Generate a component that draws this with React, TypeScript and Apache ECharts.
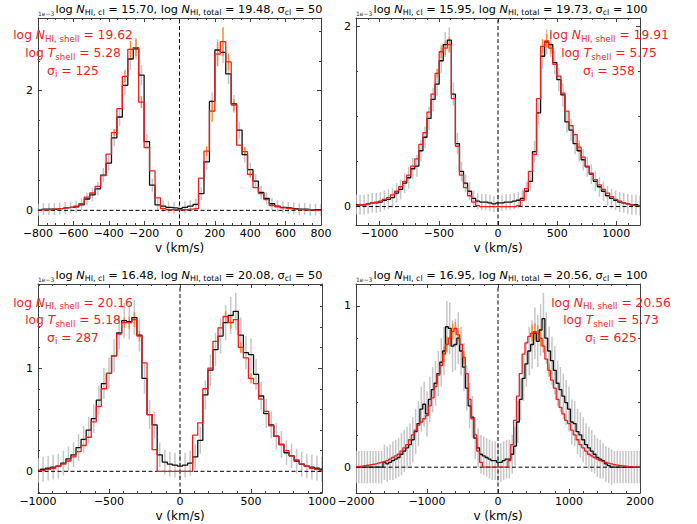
import React, { useEffect, useRef } from "react";
import * as echarts from "echarts";

// ---------------- data (values in units of 1e-3) ----------------
// Panel 1: bins centred from -800 to 800 km/s
const P1_V_FIRST = -800;
const P1_V_LAST = 800;
const P1_OBS = [
  0.01, 0.02, 0.02, 0.02, 0.03, 0.04, 0.05, 0.06, 0.09, 0.19,
  0.26, 0.36, 0.59, 0.79, 1.21, 1.56, 2.09, 2.53, 2.70, 2.26,
  1.15, 0.42, 0.09, 0.07, 0.05, 0.04, 0.03, 0.05, 0.07, 0.10,
  0.28, 0.81, 1.82, 2.68, 2.64, 2.28, 1.78, 1.34, 0.93, 0.68,
  0.49, 0.30, 0.20, 0.11, 0.07, 0.05, 0.04, 0.03, 0.02, 0.02,
  0.01, 0.01, 0.01,
];
const P1_MODEL = [
  0.01, 0.01, 0.01, 0.02, 0.03, 0.04, 0.05, 0.07, 0.11, 0.22,
  0.29, 0.40, 0.58, 0.94, 1.30, 1.70, 2.24, 2.69, 2.72, 1.81,
  1.05, 0.66, 0.21, 0.03, 0.01, 0.01, 0.01, 0.01, 0.02, 0.03,
  0.54, 0.99, 1.66, 2.61, 2.82, 2.48, 1.76, 1.09, 0.98, 0.60,
  0.38, 0.28, 0.18, 0.08, 0.06, 0.04, 0.03, 0.02, 0.01, 0.01,
  0.01, 0.0, 0.0,
];
const P1_OBS_ERR = [
  0.10, 0.10, 0.10, 0.10, 0.10, 0.10, 0.10, 0.10, 0.11, 0.11,
  0.11, 0.11, 0.12, 0.13, 0.14, 0.15, 0.16, 0.18, 0.18, 0.17,
  0.13, 0.11, 0.10, 0.10, 0.10, 0.10, 0.10, 0.10, 0.10, 0.10,
  0.11, 0.13, 0.15, 0.18, 0.18, 0.17, 0.15, 0.14, 0.13, 0.12,
  0.11, 0.11, 0.10, 0.10, 0.10, 0.10, 0.10, 0.10, 0.10, 0.10,
  0.10, 0.10, 0.10,
];
const P1_MODEL_ERR: [number, number][] = [
  [14, 0.06], [16, 0.1], [17, 0.14], [18, 0.14], [19, 0.1],
  [31, 0.08], [32, 0.18], [33, 0.2], [34, 0.24], [35, 0.14], [36, 0.1], [38, 0.07], [39, 0.05],
];

// Panel 2: bins centred from -1200 to 1200 km/s
const P2_V_FIRST = -1200;
const P2_V_LAST = 1200;
const P2_OBS = [
  0.02, 0.02, 0.02, 0.03, 0.04, 0.04, 0.05, 0.07, 0.08, 0.10,
  0.15, 0.19, 0.26, 0.32, 0.42, 0.45, 0.62, 0.77, 0.98, 1.19,
  1.36, 1.62, 1.80, 1.85, 1.25, 0.70, 0.39, 0.26, 0.17, 0.09,
  0.06, 0.05, 0.05, 0.04, 0.03,
  0.04,
  0.04, 0.05, 0.05, 0.06, 0.07, 0.09, 0.17, 0.28, 0.61, 1.04,
  1.67, 1.83, 1.80, 1.60, 1.41, 1.24, 0.94, 0.85, 0.70, 0.62,
  0.52, 0.44, 0.36, 0.28, 0.22, 0.17, 0.12, 0.09, 0.07, 0.05,
  0.04, 0.03, 0.02, 0.02, 0.01,
];
const P2_MODEL = [
  0.01, 0.02, 0.02, 0.03, 0.04, 0.05, 0.06, 0.08, 0.10, 0.13,
  0.17, 0.22, 0.28, 0.35, 0.45, 0.53, 0.69, 0.82, 1.05, 1.25,
  1.48, 1.72, 1.76, 1.80, 1.20, 0.67, 0.35, 0.21, 0.12, 0.05,
  0.01, 0.0, 0.0, 0.0, 0.0,
  0.0,
  0.0, 0.0, 0.0, 0.0, 0.01, 0.07, 0.20, 0.39, 0.58, 1.20,
  1.78, 1.84, 1.76, 1.58, 1.45, 1.26, 1.06, 0.90, 0.80, 0.66,
  0.55, 0.45, 0.37, 0.30, 0.24, 0.19, 0.15, 0.11, 0.08, 0.06,
  0.04, 0.03, 0.02, 0.01, 0.01,
];
const P2_OBS_ERR = [
  0.11, 0.11, 0.11, 0.11, 0.11, 0.11, 0.11, 0.11, 0.11, 0.11,
  0.11, 0.11, 0.11, 0.12, 0.12, 0.12, 0.12, 0.12, 0.13, 0.13,
  0.13, 0.14, 0.14, 0.14, 0.13, 0.12, 0.11, 0.10, 0.10, 0.09,
  0.09, 0.09, 0.09, 0.09, 0.09,
  0.09,
  0.09, 0.09, 0.09, 0.09, 0.09, 0.10, 0.10, 0.11, 0.12, 0.13,
  0.14, 0.14, 0.14, 0.13, 0.13, 0.13, 0.12, 0.12, 0.12, 0.12,
  0.12, 0.11, 0.11, 0.11, 0.11, 0.11, 0.11, 0.11, 0.11, 0.11,
  0.11, 0.11, 0.11, 0.11, 0.11,
];
const P2_MODEL_ERR: [number, number][] = [
  [20, 0.05], [21, 0.07], [22, 0.08], [23, 0.08], [46, 0.08], [47, 0.08], [48, 0.06], [55, 0.05],
];

// Panel 3: bins centred from -1000 to 1000 km/s
const P3_V_FIRST = -1000;
const P3_V_LAST = 1000;
const P3_OBS = [
  0.01, 0.02, 0.03, 0.04, 0.05, 0.08, 0.12, 0.16, 0.23, 0.31,
  0.40, 0.51, 0.69, 0.85, 0.95, 1.12, 1.34, 1.46, 1.45, 1.49,
  1.32, 0.90, 0.55, 0.45, 0.16, 0.09, 0.07, 0.06,
  0.05,
  0.06, 0.08, 0.14, 0.30, 0.74, 0.98, 1.18, 1.31, 1.44, 1.51,
  1.55, 1.32, 1.15, 1.13, 0.94, 0.73, 0.56, 0.45, 0.34, 0.26,
  0.18, 0.15, 0.10, 0.07, 0.05, 0.04, 0.03, 0.02,
];
const P3_MODEL = [
  0.01, 0.01, 0.02, 0.03, 0.05, 0.07, 0.10, 0.14, 0.19, 0.25,
  0.33, 0.48, 0.63, 0.80, 0.95, 1.12, 1.33, 1.44, 1.44, 1.47,
  1.31, 1.05, 0.55, 0.21, 0.0, 0.0, 0.0, 0.0,
  0.0,
  0.0, 0.0, 0.35, 0.47, 0.80, 1.00, 1.26, 1.39, 1.50, 1.44,
  1.47, 1.20, 1.10, 0.90, 0.85, 0.70, 0.58, 0.44, 0.34, 0.26,
  0.20, 0.15, 0.11, 0.07, 0.05, 0.03, 0.02, 0.01,
];
const P3_OBS_ERR = [
  0.12, 0.12, 0.12, 0.12, 0.12, 0.12, 0.12, 0.12, 0.13, 0.13,
  0.13, 0.14, 0.14, 0.15, 0.15, 0.16, 0.16, 0.17, 0.17, 0.17,
  0.16, 0.15, 0.14, 0.13, 0.12, 0.12, 0.12, 0.12,
  0.12,
  0.12, 0.12, 0.12, 0.13, 0.14, 0.15, 0.16, 0.17, 0.17, 0.18,
  0.18, 0.17, 0.16, 0.16, 0.15, 0.14, 0.14, 0.13, 0.13, 0.13,
  0.12, 0.12, 0.12, 0.12, 0.12, 0.12, 0.12, 0.12,
];
const P3_MODEL_ERR: [number, number][] = [
  [17, 0.05], [18, 0.06], [19, 0.07], [20, 0.05], [37, 0.05], [38, 0.06], [40, 0.05], [42, 0.05],
];

// Panel 4: bins centred from -2000 to 2000 km/s
const P4_V_FIRST = -2000;
const P4_V_LAST = 2000;
const P4_OBS = [
  0, 0, 0, 0, 0, 0, 0, 0, 0, 0,
  0.03, 0.02, 0.03, 0.04, 0.05, 0.06, 0.08, 0.10, 0.12, 0.14,
  0.17, 0.22, 0.27, 0.36, 0.39, 0.33, 0.42, 0.48, 0.52, 0.58,
  0.65, 0.72, 0.87, 0.86, 0.75, 0.76, 0.80, 0.72, 0.62, 0.49,
  0.38, 0.31, 0.18, 0.12, 0.08, 0.07, 0.06, 0.05, 0.04, 0.04,
  0.03,
  0.03, 0.04, 0.05, 0.05, 0.08, 0.13, 0.28, 0.42, 0.55, 0.64,
  0.72, 0.76, 0.83, 0.78, 0.85, 0.92, 0.80, 0.72, 0.66, 0.60,
  0.52, 0.48, 0.44, 0.40, 0.36, 0.28, 0.27, 0.22, 0.20, 0.17,
  0.14, 0.12, 0.10, 0.08, 0.06, 0.05, 0.04, 0.02, 0.01, 0,
  0, 0, 0, 0, 0, 0, 0, 0, 0, 0,
];
const P4_MODEL = [
  0.003, 0.005, 0.007, 0.01, 0.012, 0.015, 0.018, 0.02, 0.025, 0.03,
  0.035, 0.04, 0.05, 0.06, 0.07, 0.08, 0.10, 0.12, 0.14, 0.17,
  0.20, 0.23, 0.26, 0.28, 0.30, 0.32, 0.38, 0.43, 0.50, 0.57,
  0.63, 0.70, 0.76, 0.80, 0.84, 0.86, 0.82, 0.76, 0.68, 0.58,
  0.42, 0.30, 0.20, 0.10, 0.03, 0, 0, 0, 0, 0,
  0,
  0, 0, 0, 0.04, 0.14, 0.29, 0.44, 0.58, 0.70, 0.77,
  0.81, 0.83, 0.84, 0.83, 0.80, 0.75, 0.67, 0.60, 0.54, 0.49,
  0.42, 0.37, 0.33, 0.29, 0.27, 0.23, 0.20, 0.17, 0.14, 0.12,
  0.10, 0.08, 0.07, 0.06, 0.05, 0.04, 0.035, 0.03, 0.025, 0.02,
  0.015, 0.012, 0.01, 0.008, 0.006, 0.004, 0.003, 0.002, 0, 0,
];
const P4_OBS_ERR = [
  0.10, 0.10, 0.10, 0.10, 0.10, 0.10, 0.10, 0.10, 0.10, 0.10,
  0.11, 0.11, 0.11, 0.12, 0.12, 0.12, 0.13, 0.13, 0.13, 0.13,
  0.14, 0.14, 0.14, 0.14, 0.14, 0.14, 0.14, 0.14, 0.14, 0.14,
  0.15, 0.15, 0.16, 0.16, 0.16, 0.16, 0.16, 0.15, 0.15, 0.14,
  0.14, 0.13, 0.13, 0.12, 0.12, 0.12, 0.12, 0.12, 0.12, 0.12,
  0.12,
  0.12, 0.12, 0.12, 0.12, 0.12, 0.12, 0.13, 0.13, 0.14, 0.14,
  0.15, 0.15, 0.16, 0.16, 0.16, 0.16, 0.16, 0.15, 0.15, 0.15,
  0.14, 0.14, 0.14, 0.14, 0.14, 0.14, 0.14, 0.14, 0.14, 0.14,
  0.13, 0.13, 0.13, 0.12, 0.12, 0.12, 0.11, 0.11, 0.11, 0.11,
  0.10, 0.10, 0.10, 0.10, 0.10, 0.10, 0.10, 0.10, 0.10, 0.10,
];
const P4_MODEL_ERR: [number, number][] = [
  [31, 0.05], [32, 0.05], [33, 0.05], [34, 0.05], [35, 0.04], [36, 0.04], [38, 0.04],
  [62, 0.05], [63, 0.05], [64, 0.05], [65, 0.05], [66, 0.04], [68, 0.04],
];

// Text values
const TITLE_N_CL = ["15.70", "15.95", "16.48", "16.95"];
const TITLE_N_TOTAL = ["19.48", "19.73", "20.08", "20.56"];
const TITLE_SIGMA_CL = ["50", "100", "50", "100"];
const SHELL_N = ["19.62", "19.91", "20.16", "20.56"];
const SHELL_T = ["5.28", "5.75", "5.18", "5.73"];
const SHELL_SIGMA = ["125", "358", "287", "625"];

// Axis ranges / ticks
const X_RANGES: [number, number][] = [[-800, 800], [-1200, 1200], [-1000, 1000], [-2000, 2000]];
const Y_RANGES: [number, number][] = [[-0.245, 3.215], [-0.205, 2.095], [-0.21, 1.815], [-0.16, 1.135]];
const X_MAJOR = [200, 500, 500, 1000];
const X_MINOR = [50, 100, 100, 200];
const Y_MAJOR = [2, 2, 1, 1];
const Y_MINOR = [0.5, 0.5, 0.2, 0.2];

// ---------------- layout / style ----------------
const GRIDS = [
  { left: 38, top: 18, width: 283, height: 207 },
  { left: 356, top: 18, width: 284, height: 207 },
  { left: 38, top: 284, width: 284, height: 209 },
  { left: 356, top: 284, width: 284, height: 209 },
];
const ANNOT_X = [73, 609, 73, 611];
const ANNOT_Y = [[35, 53, 70.5], [35, 53, 70.5], [302.5, 320, 337.5], [302.5, 320, 337.5]];
const TITLE_TARGET_WIDTH = 268; // width of the first panel title in px
const RED_TARGET_WIDTH = 120; // width of the first annotation line in px
const FRAME = "#404040";
const RED = "#f01e1e";
const ORANGE = "#ff8c28";
const GRAY = "#c6c6c6";
const FONT = "DejaVu Sans";

const PANELS = [
  { vFirst: P1_V_FIRST, vLast: P1_V_LAST, obs: P1_OBS, obsErr: P1_OBS_ERR, model: P1_MODEL, modelErr: P1_MODEL_ERR },
  { vFirst: P2_V_FIRST, vLast: P2_V_LAST, obs: P2_OBS, obsErr: P2_OBS_ERR, model: P2_MODEL, modelErr: P2_MODEL_ERR },
  { vFirst: P3_V_FIRST, vLast: P3_V_LAST, obs: P3_OBS, obsErr: P3_OBS_ERR, model: P3_MODEL, modelErr: P3_MODEL_ERR },
  { vFirst: P4_V_FIRST, vLast: P4_V_LAST, obs: P4_OBS, obsErr: P4_OBS_ERR, model: P4_MODEL, modelErr: P4_MODEL_ERR },
];

function tickList(min: number, max: number, step: number): number[] {
  const out: number[] = [];
  const s = Math.ceil(min / step - 1e-9);
  const e = Math.floor(max / step + 1e-9);
  for (let k = s; k <= e; k++) out.push(+(k * step).toFixed(6));
  return out;
}

const fmt = (v: number) => (v < 0 ? "\u2212" + String(-v) : String(v));

let measureCtx: CanvasRenderingContext2D | null = null;
function textWidth(text: string, size: number, italic: boolean): number {
  if (!measureCtx) measureCtx = document.createElement("canvas").getContext("2d");
  if (!measureCtx) return text.length * size * 0.6;
  measureCtx.font = `${italic ? "italic " : ""}${size}px "${FONT}"`;
  return measureCtx.measureText(text).width;
}

type Tok = [string, string];
const richString = (toks: Tok[]) => toks.map(([s, t]) => `{${s}|${t}}`).join("");
const widthOf = (toks: Tok[], size: number) =>
  toks.reduce((acc, [s, t]) => acc + textWidth(t, s === "s" ? size * 0.7 : size, s === "i"), 0);

const titleTokens = (k: number): Tok[] => [
  ["t", "log "], ["i", "N"], ["s", "HI, cl"], ["t", ` = ${TITLE_N_CL[k]}, log `], ["i", "N"], ["s", "HI, total"],
  ["t", ` = ${TITLE_N_TOTAL[k]}, σ`], ["s", "cl"], ["t", ` = ${TITLE_SIGMA_CL[k]}`],
];
const annotTokens = (k: number): Tok[][] => [
  [["t", "log "], ["i", "N"], ["s", "HI, shell"], ["t", ` = ${SHELL_N[k]}`]],
  [["t", "log "], ["i", "T"], ["s", "shell"], ["t", ` = ${SHELL_T[k]}`]],
  [["t", "σ"], ["s", "i"], ["t", ` = ${SHELL_SIGMA[k]}`]],
];

function axisCfg(k: number, dim: "x" | "y", position: string, major: boolean) {
  const [min, max] = dim === "x" ? X_RANGES[k] : Y_RANGES[k];
  const majStep = dim === "x" ? X_MAJOR[k] : Y_MAJOR[k];
  const minStep = dim === "x" ? X_MINOR[k] : Y_MINOR[k];
  const showLabel = major && (position === "bottom" || position === "left");
  return {
    type: "value",
    gridIndex: k,
    position,
    min,
    max,
    axisLine: { show: major, onZero: false, lineStyle: { color: FRAME, width: 1 } },
    axisTick: {
      show: true,
      inside: true,
      length: major ? 4 : 2,
      customValues: major ? tickList(min, max, majStep) : tickList(min, max, minStep),
      lineStyle: { color: FRAME, width: 1 },
    },
    axisLabel: {
      show: showLabel,
      customValues: tickList(min, max, majStep),
      margin: dim === "x" ? 3 : 5,
      fontSize: 11,
      fontFamily: FONT,
      color: "#000",
      formatter: fmt,
      showMinLabel: true,
      showMaxLabel: true,
      hideOverlap: false,
    },
    splitLine: { show: false },
    minorTick: { show: false },
    minorSplitLine: { show: false },
  };
}

function makeRich(color: string, size: number, lh: number) {
  const sub = size * 0.7;
  return {
    t: { fontSize: size, fontFamily: FONT, fill: color, color, lineHeight: lh, verticalAlign: "middle" },
    i: { fontSize: size, fontFamily: FONT, fontStyle: "italic", fill: color, color, lineHeight: lh, verticalAlign: "middle" },
    s: { fontSize: sub, fontFamily: FONT, fill: color, color, lineHeight: sub, verticalAlign: "bottom" },
  };
}

function buildOption() {
  const grid = GRIDS.map((g) => ({ ...g, containLabel: false, outerBoundsMode: "none" }));
  const xAxis: any[] = [];
  const yAxis: any[] = [];
  const series: any[] = [];
  const graphic: any[] = [];

  // calibrate font sizes so that text widths match the reference
  const titleSize = Math.round(10 * TITLE_TARGET_WIDTH / widthOf(titleTokens(0), 10) * 10) / 10;
  const redSize = Math.round(10 * RED_TARGET_WIDTH / widthOf(annotTokens(0)[0], 10) * 10) / 10;
  const titleRich = makeRich("#000", titleSize, titleSize * 1.3);
  const redRich = makeRich(RED, redSize, redSize * 1.3);

  PANELS.forEach((p, k) => {
    xAxis.push(axisCfg(k, "x", "bottom", true), axisCfg(k, "x", "bottom", false), axisCfg(k, "x", "top", true), axisCfg(k, "x", "top", false));
    yAxis.push(axisCfg(k, "y", "left", true), axisCfg(k, "y", "left", false), axisCfg(k, "y", "right", true), axisCfg(k, "y", "right", false));
    const xi = 4 * k;
    const n = p.obs.length;
    const step = (p.vLast - p.vFirst) / (n - 1);
    const vx = (i: number) => p.vFirst + i * step;
    const [xmin, xmax] = X_RANGES[k];
    const [ymin, ymax] = Y_RANGES[k];

    const barSeries = (data: number[][], color: string, width: number) => ({
      type: "custom",
      xAxisIndex: xi,
      yAxisIndex: xi,
      clip: true,
      silent: true,
      data,
      encode: { x: 0, y: [1, 2] },
      renderItem: (_params: any, api: any) => {
        const a = api.coord([api.value(0), api.value(1)]);
        const b = api.coord([api.value(0), api.value(2)]);
        return {
          type: "line",
          shape: { x1: a[0], y1: a[1], x2: b[0], y2: b[1] },
          style: { stroke: color, lineWidth: width },
        };
      },
    });

    series.push(barSeries(p.obs.map((y, i) => [vx(i), y - p.obsErr[i], y + p.obsErr[i]]), GRAY, 1.5));
    series.push(barSeries(p.modelErr.map(([i, e]) => [vx(i), p.model[i] - e, p.model[i] + e]), ORANGE, 1.5));
    const dashed = { color: "#000", width: 1, type: [4, 2.5] };
    series.push({ type: "line", xAxisIndex: xi, yAxisIndex: xi, silent: true, symbol: "none", data: [[xmin, 0], [xmax, 0]], lineStyle: dashed });
    series.push({ type: "line", xAxisIndex: xi, yAxisIndex: xi, silent: true, symbol: "none", data: [[0, ymin], [0, ymax]], lineStyle: dashed });
    series.push({
      type: "line", step: "middle", xAxisIndex: xi, yAxisIndex: xi, silent: true, symbol: "none",
      data: p.obs.map((y, i) => [vx(i), y]), lineStyle: { color: "#111", width: 1.3 },
    });
    series.push({
      type: "line", step: "middle", xAxisIndex: xi, yAxisIndex: xi, silent: true, symbol: "none",
      data: p.model.map((y, i) => [vx(i), y]), lineStyle: { color: RED, width: 1.3 },
    });

    const g = GRIDS[k];
    const rowTop = g.top;
    graphic.push({
      type: "text", x: g.left, y: rowTop - 2, silent: true,
      style: { text: "1e\u22123", fontSize: 6, fontFamily: FONT, fill: "#333", align: "left", verticalAlign: "bottom" },
    });
    graphic.push({
      type: "text", x: g.left + 17.5, y: rowTop - 9, silent: true,
      style: { text: richString(titleTokens(k)), rich: titleRich, fontSize: titleSize, fontFamily: FONT, fill: "#000", align: "left", verticalAlign: "middle" },
    });
    annotTokens(k).forEach((toks, li) => {
      const w = widthOf(toks, redSize);
      graphic.push({
        type: "text", x: ANNOT_X[k] - w / 2, y: ANNOT_Y[k][li], silent: true, z: 100,
        style: { text: richString(toks), rich: redRich, fontSize: redSize, fontFamily: FONT, fill: RED, align: "left", verticalAlign: "middle" },
      });
    });
    graphic.push({
      type: "text", x: g.left + g.width / 2, y: g.top + g.height + 23, silent: true,
      style: { text: "v (km/s)", fontSize: 12, fontFamily: FONT, fill: "#000", align: "center", verticalAlign: "middle" },
    });
  });

  return {
    animation: false,
    backgroundColor: "#ffffff",
    textStyle: { fontFamily: FONT },
    grid,
    xAxis,
    yAxis,
    series,
    graphic,
  };
}

export default function App() {
  const ref = useRef<HTMLDivElement>(null);
  useEffect(() => {
    if (!ref.current) return;
    const chart = echarts.init(ref.current, null, { renderer: "svg" });
    chart.setOption(buildOption() as any);
    return () => chart.dispose();
  }, []);
  return (
    <div
      ref={ref}
      style={{ position: "fixed", left: 0, top: 0, width: 697, height: 524, background: "#fff" }}
    />
  );
}
